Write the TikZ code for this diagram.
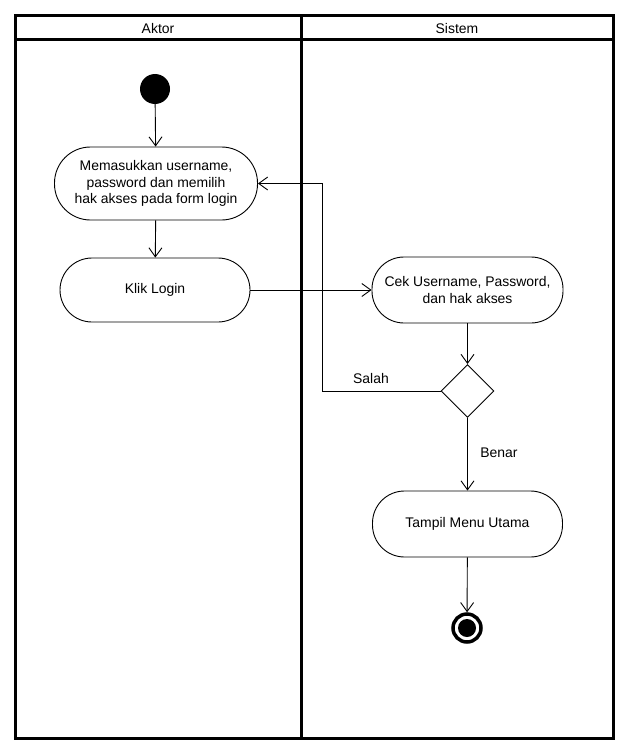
\documentclass[tikz,border=0pt]{standalone}
\usepackage{fontspec}
\setmainfont{Liberation Sans}
\usetikzlibrary{arrows.meta,shapes.geometric}
\begin{document}
\begin{tikzpicture}[x=1bp,y=-1bp,
  every node/.style={font=\fontsize{14}{16.5}\selectfont},
  act/.style={draw,line width=0.9bp,rounded corners=32bp,align=center,inner sep=0pt},
  flow/.style={line width=0.9bp,-{Straight Barb[length=9bp,width=13bp,line width=0.9bp]}},
  lane/.style={line width=3bp}]
\useasboundingbox (0,0) rectangle (630,755);
% swimlanes
\draw[lane] (15,15.5) rectangle (613,738.5);
\draw[lane] (15,40) -- (613,40);
\draw[lane] (301,15.5) -- (301,738.5);
\node (hA) at (158,28.5) {Aktor};
\node (hS) at (457,28.5) {Sistem};
% nodes
\node[circle,fill=black,minimum size=30bp,inner sep=0pt] (start) at (155,89) {};
\node[act,minimum width=203bp,minimum height=73bp,rounded corners=36bp] (input) at (156,183.5) {Memasukkan username,\\password dan memilih\\hak akses pada form login};
\node[act,minimum width=190bp,minimum height=64bp] (klik) at (155,290) {Klik Login};
\node[act,minimum width=191bp,minimum height=66bp] (cek) at (467.5,290) {Cek Username, Password,\\dan hak akses};
\node[diamond,draw,line width=0.9bp,minimum width=53bp,minimum height=53bp,inner sep=0pt] (dec) at (467.5,391) {};
\node[act,minimum width=190bp,minimum height=66bp] (menu) at (467.5,524) {Tampil Menu Utama};
\node[circle,draw,line width=3.5bp,minimum size=28bp,inner sep=0pt] (end) at (467,628) {};
\node[circle,fill=black,minimum size=18bp,inner sep=0pt] (endin) at (end.center) {};
\coordinate (c1) at (322,391);
\coordinate (c2) at (322,183.5);
% connectors
\draw[flow] (start) -- (input);
\draw[flow] (input) -- (klik);
\draw[flow] (klik) -- (cek);
\draw[flow] (cek) -- (dec);
\draw[flow] (dec.west) -- (c1) -- (c2) -- (input.east);
\draw[flow] (dec) -- (menu);
\draw[flow] (menu) -- (end);
\node (salah) at (371,379) {Salah};
\node (benar) at (499,453) {Benar};
\end{tikzpicture}
\end{document}
